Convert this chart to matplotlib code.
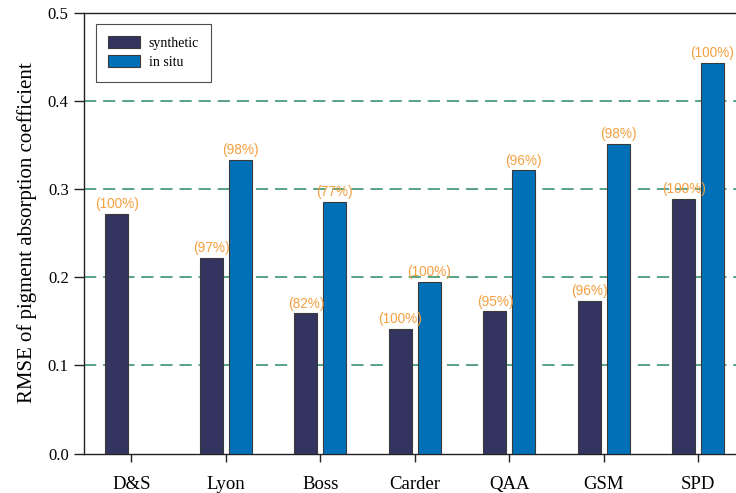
import numpy as np
import matplotlib.pyplot as plt

# Data
methods = ["D&S", "Lyon", "Boss", "Carder", "QAA", "GSM", "SPD"]
synthetic = [0.272, 0.222, 0.159, 0.141, 0.161, 0.173, 0.289]
in_situ = [np.nan, 0.333, 0.285, 0.195, 0.321, 0.351, 0.443]
synthetic_pct = ["(100%)", "(97%)", "(82%)", "(100%)", "(95%)", "(96%)", "(100%)"]
in_situ_pct = [None, "(98%)", "(77%)", "(100%)", "(96%)", "(98%)", "(100%)"]

serif = ["Liberation Serif", "DejaVu Serif"]
col_syn = "#33345f"
col_ins = "#0070b9"
col_pct = "#f5a040"

fig = plt.figure(figsize=(7.36, 4.93), dpi=100)
# axes run slightly beyond the right edge, as in the reference
ax = fig.add_axes([84 / 736, 39.5 / 493, 661.5 / 736, 441 / 493])

xs = np.arange(len(methods))
w = 0.243
off = 0.151

ax.bar(xs - off, synthetic, w, color=col_syn, edgecolor="#3a3a3a",
       linewidth=0.8, label="synthetic", zorder=3)
ax.bar(xs + off, in_situ, w, color=col_ins, edgecolor="#3a3a3a",
       linewidth=0.8, label="in situ", zorder=3)

# percentage labels above each bar
for i in range(len(methods)):
    ax.text(xs[i] - off, synthetic[i] + 0.003, synthetic_pct[i], ha="center",
            va="bottom", color=col_pct, fontsize=9.8, family="Liberation Sans")
    if in_situ_pct[i] is not None:
        ax.text(xs[i] + off, in_situ[i] + 0.003, in_situ_pct[i], ha="center",
                va="bottom", color=col_pct, fontsize=9.8, family="Liberation Sans")

# dashed green reference lines
for yv in [0.1, 0.2, 0.3, 0.4]:
    ax.axhline(yv, color="#2b8a66", linewidth=1.1, dashes=(8, 4.5), zorder=1)

ax.set_xlim(-0.5, 6.5)
ax.set_ylim(0, 0.5)
ax.set_xticks(xs)
ax.set_xticklabels(methods, family=serif, fontsize=13.5)
ax.set_yticks([0, 0.1, 0.2, 0.3, 0.4, 0.5])
ax.set_yticklabels([f"{v:.1f}" for v in ax.get_yticks()], family=serif, fontsize=12)
ax.tick_params(axis="x", direction="out", length=6, width=1, pad=10, color="#222222")
ax.tick_params(axis="y", direction="out", length=7, width=1, pad=4, color="#222222")
ax.set_ylabel("RMSE of pigment absorption coefficient", family=serif,
              fontsize=15, labelpad=8)

for s in ["left", "bottom", "top"]:
    ax.spines[s].set_linewidth(1.0)
    ax.spines[s].set_color("#222222")
ax.spines["right"].set_visible(False)

leg = ax.legend(loc="upper left", bbox_to_anchor=(0.018, 0.975),
                prop={"family": serif, "size": 10}, frameon=True,
                fancybox=False, edgecolor="#222222", handlelength=2.3,
                handleheight=0.95, borderpad=0.9, labelspacing=0.4,
                handletextpad=0.6, borderaxespad=0)
leg.get_frame().set_linewidth(0.8)

fig.savefig("out.png", dpi=100)
